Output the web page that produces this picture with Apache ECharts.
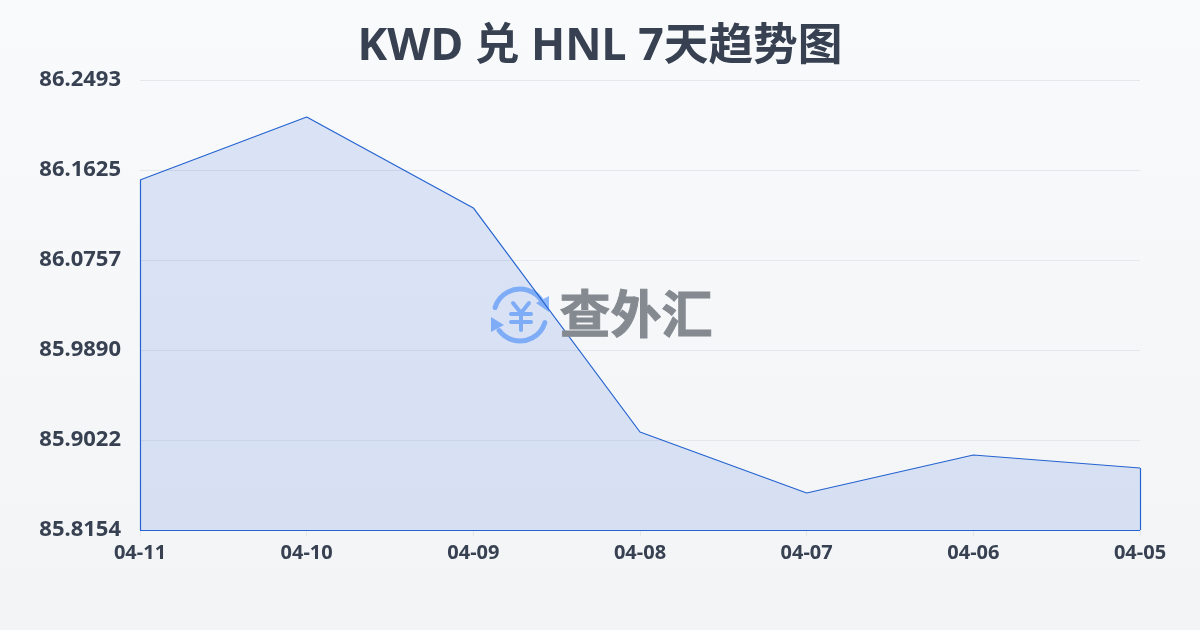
<!DOCTYPE html>
<html><head><meta charset="utf-8">
<style>html,body{margin:0;padding:0;width:1200px;height:630px;overflow:hidden}#c{width:1200px;height:630px}</style>
<script src="https://cdn.jsdelivr.net/npm/echarts@6/dist/echarts.min.js"></script>
</head><body><div id="c"></div>
<script>
const titleText = 'KWD 兑 HNL 7天趋势图';
const categories = ['04-11','04-10','04-09','04-08','04-07','04-06','04-05'];
const rates = [86.1529,86.2136,86.1259,85.9099,85.8511,85.8877,85.8752];
const axisMin = 85.8154;
const axisMax = 86.2493;
const axisStep = 0.08678;
const lineColor = '#2563d0';
const font = '"Noto Sans","Noto Sans CJK SC",sans-serif';
const textColor = '#374151';
const chart = echarts.init(document.getElementById('c'), null, {renderer:'canvas'});
const last = categories.length - 1;
const iconBlue = '#8db8fb';
const yenStroke = {stroke:iconBlue,lineWidth:4,lineCap:'round',fill:'none'};
chart.setOption({
  animation:false,
  backgroundColor:new echarts.graphic.LinearGradient(0,0,0,1,[{offset:0,color:'#f8fafc'},{offset:1,color:'#f3f4f6'}]),
  title:{text:titleText,left:'center',top:20,textStyle:{fontFamily:font,fontSize:44.7,fontWeight:'bold',color:textColor}},
  grid:{left:140,right:60,top:80,bottom:100,containLabel:false},
  xAxis:{type:'category',boundaryGap:false,data:categories,
    axisLine:{show:false},
    axisTick:{show:true,length:6,lineStyle:{color:'#e5e7eb'}},
    axisLabel:{show:true,interval:0,margin:13,fontFamily:font,fontSize:20,fontWeight:'bold',color:textColor},
    splitLine:{show:false}},
  yAxis:{type:'value',min:axisMin,max:axisMax,interval:axisStep,
    axisLine:{show:false},axisTick:{show:false},
    axisLabel:{margin:19,fontFamily:font,fontSize:22,fontWeight:'bold',color:textColor,
      formatter:v=>v.toFixed(4)},
    splitLine:{show:true,lineStyle:{color:'#e5e7eb',width:1}}},
  series:[{type:'line',data:rates,symbol:'none',smooth:false,
    lineStyle:{color:lineColor,width:1.2},
    areaStyle:{color:'#2a62dc',opacity:0.14},
    markLine:{silent:true,symbol:'none',label:{show:false},lineStyle:{color:lineColor,width:1.2,type:'solid'},
      data:[
        [{coord:[categories[0],axisMin]},{coord:[categories[0],rates[0]]}],
        [{coord:[categories[0],axisMin]},{coord:[categories[last],axisMin]}],
        [{coord:[categories[last],axisMin]},{coord:[categories[last],rates[last]]}]
      ]}}],
  graphic:[
    {type:'group',x:490,y:286,z:100,silent:true,children:[
      {type:'arc',shape:{cx:30,cy:29,r:26,startAngle:-2.85,endAngle:-0.45},style:{stroke:iconBlue,lineWidth:5,fill:'none',lineCap:'round'}},
      {type:'arc',shape:{cx:30,cy:29,r:26,startAngle:0.3,endAngle:2.5},style:{stroke:iconBlue,lineWidth:5,fill:'none',lineCap:'round'}},
      {type:'polygon',shape:{points:[[46,17],[59,10],[59,26]]},style:{fill:iconBlue}},
      {type:'polygon',shape:{points:[[1,31],[1,46],[14,39]]},style:{fill:iconBlue}},
      {type:'line',shape:{x1:23,y1:17,x2:31,y2:27},style:yenStroke},
      {type:'line',shape:{x1:39,y1:17,x2:31,y2:27},style:yenStroke},
      {type:'line',shape:{x1:21,y1:28,x2:41,y2:28},style:yenStroke},
      {type:'line',shape:{x1:21,y1:36,x2:41,y2:36},style:yenStroke},
      {type:'line',shape:{x1:31,y1:27,x2:31,y2:44},style:yenStroke}
    ]},
    {type:'text',left:559,top:288,z:100,silent:true,style:{text:'查外汇',font:'bold 51px "Noto Sans CJK SC"',fill:'#858a91',stroke:'#858a91',lineWidth:1}}
  ]
});
</script></body></html>
